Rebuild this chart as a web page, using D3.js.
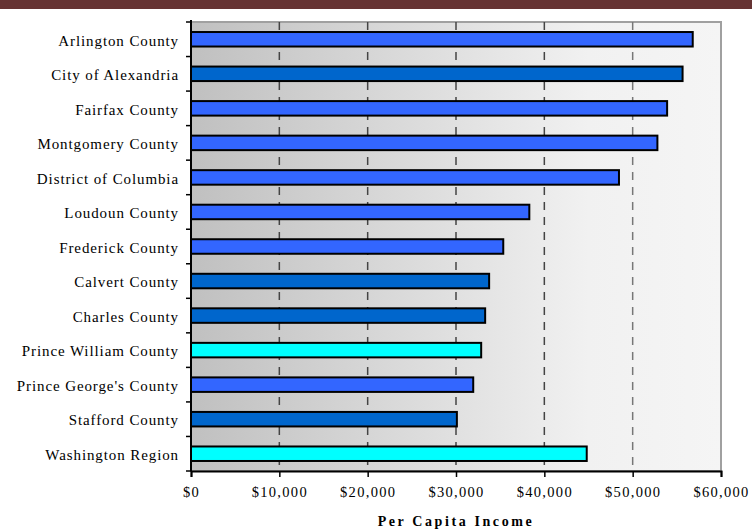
<!DOCTYPE html>
<html><head><meta charset="utf-8">
<script src="https://cdn.jsdelivr.net/npm/d3@7"></script>
<style>body{margin:0;background:#fff}svg{display:block}</style>
</head><body>
<script>
const categories = ["Arlington County","City of Alexandria","Fairfax County","Montgomery County","District of Columbia","Loudoun County","Frederick County","Calvert County","Charles County","Prince William County","Prince George's County","Stafford County","Washington Region"];
const values = [56800,55650,53900,52800,48450,38300,35350,33750,33300,32850,31950,30100,44800];
const colorGroups = ["a","b","a","a","a","a","a","b","b","c","a","b","c"];
const tickValues = [0,10000,20000,30000,40000,50000,60000];
const xTitle = "Per Capita Income";

const W=752,H=531;
const m={l:191,r:31,t:22,b:60};
const svg=d3.select("body").append("svg").attr("width",W).attr("height",H);
svg.append("rect").attr("x",0).attr("y",0).attr("width",W).attr("height",9).attr("fill","#663333");

const x=d3.scaleLinear().domain([0,60000]).range([m.l,W-m.r]);
const y=d3.scaleBand().domain(categories).range([m.t,H-m.b]).paddingInner(0.58).paddingOuter(0.29);
const yb=d3.scaleBand().domain(categories).range([m.t,H-m.b]);
const col=d3.scaleOrdinal().domain(["a","b","c"]).range(["#3366FF","#0066CC","#00FFFF"]);

const defs=svg.append("defs");
const g=defs.append("linearGradient").attr("id","bg").attr("x1","0").attr("x2","1").attr("y1","0").attr("y2","0");
g.append("stop").attr("offset","0").attr("stop-color","#c0c0c0");
g.append("stop").attr("offset","0.75").attr("stop-color","#f1f1f1");
g.append("stop").attr("offset","1").attr("stop-color","#f5f5f5");

svg.append("rect").attr("x",x(0)).attr("y",m.t).attr("width",x(60000)-x(0)).attr("height",H-m.b-m.t)
  .attr("fill","url(#bg)").attr("stroke","#a0a0a0").attr("stroke-width",2);

svg.append("g").selectAll("line").data(tickValues.slice(1,-1)).join("line")
  .attr("x1",d=>x(d)).attr("x2",d=>x(d)).attr("y1",m.t).attr("y2",H-m.b)
  .attr("stroke",(d,i)=>i===4?"#777":"#444").attr("stroke-width",1.5).attr("stroke-dasharray","8,7");

svg.append("g").selectAll("rect").data(categories).join("rect")
  .attr("x",x(0)).attr("y",d=>y(d)).attr("width",(d,i)=>x(values[i])-x(0)).attr("height",y.bandwidth())
  .attr("fill",(d,i)=>col(colorGroups[i])).attr("stroke","#000").attr("stroke-width",2);

// left axis with ticks between categories
const la=svg.append("g");
la.append("line").attr("x1",x(0)).attr("x2",x(0)).attr("y1",m.t-2).attr("y2",H-m.b).attr("stroke","#000").attr("stroke-width",2);
const bounds=categories.map(c=>yb(c)).concat([H-m.b]);
la.selectAll("line.t").data(bounds).join("line").attr("class","t")
  .attr("x1",x(0)-5).attr("x2",x(0)).attr("y1",d=>d).attr("y2",d=>d).attr("stroke","#000").attr("stroke-width",1.5);
la.selectAll("text").data(categories).join("text")
  .attr("x",x(0)-12).attr("y",d=>yb(d)+yb.bandwidth()/2+1).attr("dy","0.35em")
  .attr("text-anchor","end").attr("font-family","Liberation Serif").attr("font-size",15)
  .attr("letter-spacing",0.9).attr("fill","#000").text(d=>d);

const xa=d3.axisBottom(x).tickValues(tickValues).tickSize(6).tickFormat(d=>"$"+d3.format(",")(d));
const xg=svg.append("g").attr("transform",`translate(0,${H-m.b})`).call(xa);
xg.select(".domain").attr("stroke","#000").attr("stroke-width",2);
xg.selectAll(".tick line").attr("stroke","#000").attr("stroke-width",1.5);
xg.selectAll(".tick text").attr("font-family","Liberation Serif").attr("font-size",14.5).attr("letter-spacing",1.3)
  .attr("fill","#000").attr("y",16);

svg.append("text").attr("x",456).attr("y",526).attr("text-anchor","middle")
  .attr("font-family","Liberation Serif").attr("font-size",14).attr("font-weight","bold").attr("letter-spacing",2.6)
  .text(xTitle);
</script>
</body></html>
